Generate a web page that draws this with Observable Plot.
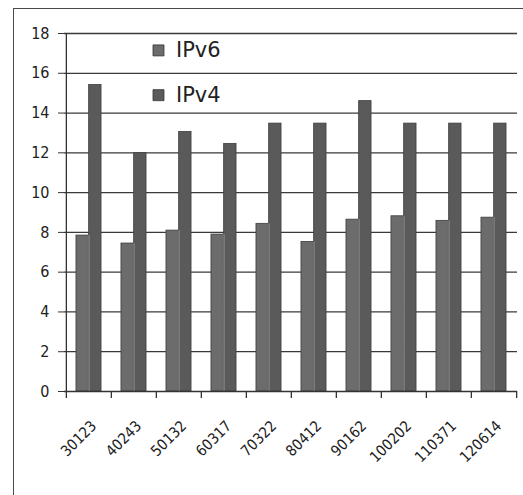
<!DOCTYPE html>
<html>
<head>
<meta charset="utf-8">
<script src="https://cdn.jsdelivr.net/npm/d3@7"></script>
<script src="https://cdn.jsdelivr.net/npm/@observablehq/plot@0.6"></script>
<style>
  html, body { margin: 0; padding: 0; background: #fff; }
  #wrap { position: relative; width: 523px; height: 495px; overflow: hidden; }
  #frame { position: absolute; left: 13px; top: 8px; width: 530px; height: 500px;
           border: 1.5px solid #4a4a4a; box-sizing: border-box; pointer-events: none; }
  #chart { position: absolute; left: 0; top: 0; }
</style>
</head>
<body>
<div id="wrap"><div id="chart"></div><div id="frame"></div></div>
<script>
// Sample sizes on the x axis
const categories = ["30123", "40243", "50132", "60317", "70322", "80412", "90162", "100202", "110371", "120614"];
// Series values (same order as categories)
const ipv6 = [7.84, 7.44, 8.09, 7.89, 8.43, 7.52, 8.64, 8.81, 8.58, 8.74];
const ipv4 = [15.41, 11.98, 13.05, 12.45, 13.47, 13.47, 14.6, 13.47, 13.47, 13.47];
const seriesNames = ["IPv6", "IPv4"];
const yTicks = [0, 2, 4, 6, 8, 10, 12, 14, 16, 18];

const rows = [];
categories.forEach((c, i) => {
  rows.push({cat: c, series: "IPv6", value: ipv6[i]});
  rows.push({cat: c, series: "IPv4", value: ipv4[i]});
});

const W = 523, H = 495;
const mL = 64, mR = 6, mT = 33, mB = 104;
const band = (W - mL - mR) / categories.length;
const barW = band * 0.28;
const gap = (band - 2 * barW) / 2;

const colors = {IPv6: "#6c6c6c", IPv4: "#5a5a5a"};
const narrow = "'Liberation Sans Narrow', 'Arial Narrow', 'DejaVu Sans Condensed', sans-serif";
const legendY = [17.15, 14.9];

const bar = (name, left, right) => Plot.barY(rows.filter(d => d.series === name), {
  x: "cat", y: "value",
  fill: colors[name], stroke: "#3e3e3e", strokeWidth: 0.8,
  insetLeft: left, insetRight: right
});

const chart = Plot.plot({
  width: W, height: H,
  marginLeft: mL, marginRight: mR, marginTop: mT, marginBottom: mB,
  style: {background: "transparent", fontFamily: narrow},
  x: {type: "band", domain: categories, padding: 0, axis: null},
  y: {domain: [0, 18], axis: null},
  marks: [
    // horizontal gridlines
    Plot.ruleY(yTicks.filter(t => t > 0), {stroke: "#3a3a3a", strokeWidth: 1.3}),
    // legend
    Plot.dot(seriesNames, {
      x: () => categories[1], y: (d, i) => legendY[i],
      symbol: "square", r: 6.2, fill: d => colors[d], stroke: "#333", strokeWidth: 0.8,
      dx: 24.5
    }),
    Plot.text(seriesNames, {
      x: () => categories[1], y: (d, i) => legendY[i],
      text: d => d, textAnchor: "start", dx: 42,
      fontFamily: "'DejaVu Sans', sans-serif", fontSize: 21, fill: "#222"
    }),
    // bars
    bar("IPv6", gap, gap + barW),
    bar("IPv4", gap + barW, gap),
    // light separator between paired bars
    Plot.ruleX(categories, {x: d => d, y1: 0, y2: (d, i) => ipv6[i], dx: gap + barW - band / 2, stroke: "#9a9a9a", strokeWidth: 1}),
    // axis lines
    Plot.ruleY([0], {stroke: "#333", strokeWidth: 1.3}),
    Plot.ruleX([0], {x: () => categories[0], y1: 0, y2: 18, dx: -band / 2, stroke: "#333", strokeWidth: 1.3}),
    // y axis ticks and labels
    Plot.axisY({ticks: yTicks, tickSize: 6, tickPadding: 9, fontSize: 16, fill: "#222", stroke: "#333", tickFormat: d => d, label: null}),
    // x ticks at category boundaries
    Plot.ruleX(categories, {x: d => d, y1: 0, y2: -0.35, dx: -band / 2, stroke: "#333", strokeWidth: 1.3}),
    Plot.ruleX([categories[categories.length - 1]], {x: d => d, y1: 0, y2: -0.35, dx: band / 2, stroke: "#333", strokeWidth: 1.3}),
    // x labels
    Plot.text(categories, {
      x: d => d, y: 0, text: d => d, rotate: -45, textAnchor: "end",
      dx: 5, dy: 32, fontSize: 15, fill: "#222", fontFamily: narrow
    })
  ]
});
document.getElementById("chart").appendChild(chart);
</script>
</body>
</html>
